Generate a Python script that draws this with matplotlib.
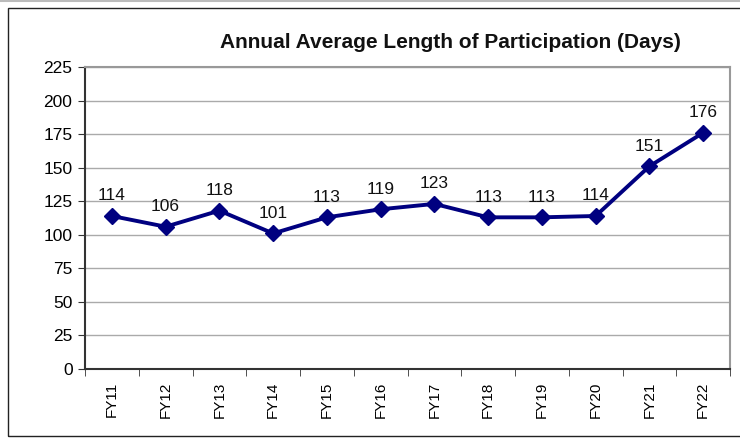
import matplotlib.pyplot as plt
from matplotlib.patches import Rectangle

years = ["FY11", "FY12", "FY13", "FY14", "FY15", "FY16",
         "FY17", "FY18", "FY19", "FY20", "FY21", "FY22"]
days = [114, 106, 118, 101, 113, 119, 123, 113, 113, 114, 151, 176]
yticks = [0, 25, 50, 75, 100, 125, 150, 175, 200, 225]

plt.rcParams["font.family"] = ["Liberation Sans", "DejaVu Sans"]

fig = plt.figure(figsize=(7.4, 4.38), dpi=100)
ax = fig.add_axes([85 / 740, 1 - 369 / 438, 645 / 740, 302 / 438])

# outer chart frame
fig.add_artist(Rectangle((8 / 740, 2 / 438), 740, 428 / 438, transform=fig.transFigure,
                         fill=False, edgecolor="#222222", linewidth=1))
fig.add_artist(plt.Line2D([0, 1], [1 - 0.5 / 438] * 2, color="#bbbbbb", linewidth=1.5))

x = list(range(len(years)))
ax.plot(x, days, color="#000080", linewidth=2.8, marker="D", markersize=8, zorder=3)
for xi, v in zip(x, days):
    ax.annotate(str(v), (xi, v), xytext=(0, 9), textcoords="offset points",
                ha="center", va="bottom", fontsize=12.5, color="#111111")

ax.set_xlim(-0.5, len(years) - 0.5)
ax.set_ylim(0, 225)
ax.set_yticks(yticks)
ax.set_xticks(x)
ax.set_xticklabels(years, rotation=90, fontsize=11)
ax.set_xticks([i - 0.5 for i in range(len(years) + 1)], minor=True)
ax.tick_params(axis="x", which="major", length=0, pad=9)
ax.tick_params(axis="x", which="minor", length=5, direction="out", color="#333333")
ax.tick_params(axis="y", length=5, direction="out", labelsize=12.5, color="#333333", pad=4)

ax.grid(axis="y", color="#aaaaaa", linewidth=1)
ax.set_axisbelow(True)
for s in ["top", "right"]:
    ax.spines[s].set_color("#999999")
    ax.spines[s].set_linewidth(1.5)
for s in ["left", "bottom"]:
    ax.spines[s].set_color("#333333")
    ax.spines[s].set_linewidth(1.5)

fig.text(450 / 740, 1 - 42 / 438, "Annual Average Length of Participation (Days)",
         ha="center", va="center", fontsize=15, fontweight="bold", color="#111111")

fig.savefig("out.png", dpi=100)
